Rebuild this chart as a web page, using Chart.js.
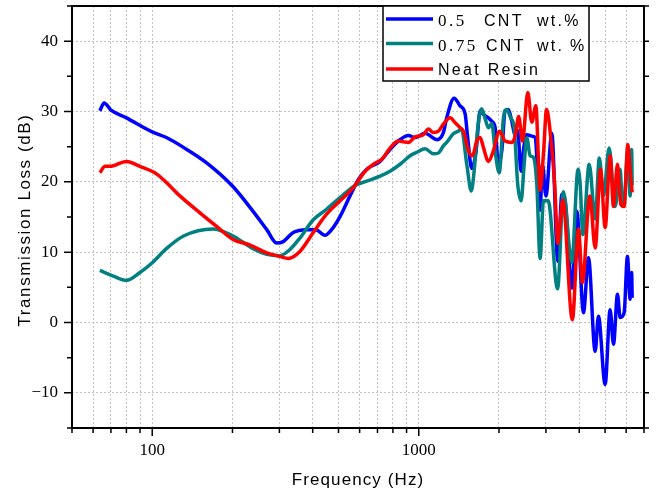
<!DOCTYPE html>
<html>
<head>
<meta charset="utf-8">
<title>Transmission Loss</title>
<script src="https://cdn.jsdelivr.net/npm/chart.js@4.4.0/dist/chart.umd.min.js"></script>
<style>
  html, body { margin: 0; padding: 0; background: #fff; }
  #wrap { width: 656px; height: 494px; }
</style>
</head>
<body>
<div id="wrap"><canvas id="tlChart" width="656" height="494"></canvas></div>
<script>
// measured transmission loss curves (frequency in Hz, TL in dB)
const freq05 = [63.6, 66, 70, 80, 100, 113, 131, 160, 200, 239, 269, 293, 310, 338, 380, 410, 445, 471, 507, 552,
  593, 638, 716, 780, 838, 914, 968, 1056, 1169, 1237, 1273, 1357, 1429, 1494, 1522, 1581, 1641, 1699, 1748, 1825,
  1880, 1934, 1990, 2049, 2109, 2169, 2234, 2299, 2350, 2420, 2480, 2543, 2655, 2733, 2853, 2910, 3000, 3156, 3325,
  3443, 3540, 3752, 3917, 4150, 4332, 4591, 4721, 5004, 5224, 5378, 5567, 5697, 5897, 6067, 6209, 6290, 6320];
const tl05 = [30.1, 31.2, 30.2, 29.1, 27.1, 26.3, 24.9, 22.7, 19.4, 15.8, 13.2, 11.3, 11.5, 12.8, 13.2, 13.2, 12.4, 13.2, 15.1, 18.0,
  20.3, 21.8, 22.9, 24.6, 25.8, 26.6, 26.3, 26.9, 26.0, 27.0, 29.1, 31.9, 30.8, 29.6, 26.7, 21.9, 24.4, 30.1, 29.6, 29.1,
  28.6, 27.7, 22.5, 24.4, 30.1, 30.3, 28.6, 26.7, 27.3, 21.5, 25.0, 26.7, 26.5, 26.3, 16.0, 22.5, 18.0, 26.9, 8.7,
  18.2, 17.3, 4.9, 15.8, 1.4, 9.2, -4.1, 0.9, -8.8, 1.8, -3.1, 4.0, 0.7, 1.4, 9.4, 3.3, 7.1, 3.5];

const freq075 = [63.6, 71.4, 80, 89.9, 100, 113, 131, 169, 201, 239, 269, 300, 329, 358, 402, 451, 522, 585, 638, 716,
  780, 851, 928, 984, 1056, 1134, 1185, 1237, 1273, 1345, 1405, 1446, 1514, 1574, 1618, 1665, 1722, 1771, 1825, 1880,
  1934, 2004, 2079, 2139, 2212, 2280, 2352, 2421, 2486, 2543, 2617, 2690, 2773, 2853, 2936, 3058, 3318, 3490, 3750,
  3960, 4033, 4129, 4360, 4591, 4759, 4932, 5180, 5457, 5697, 5811, 5900, 6087, 6209, 6290, 6320];
const tl075 = [7.4, 6.6, 6.0, 7.1, 8.5, 10.5, 12.3, 13.3, 12.3, 10.5, 9.7, 9.5, 10.4, 12.0, 14.6, 16.1, 18.2, 19.6, 20.1, 20.8,
  21.5, 22.5, 23.7, 24.2, 24.7, 24.0, 24.1, 25.1, 25.6, 26.8, 27.2, 27.5, 22.5, 18.7, 22.0, 27.7, 30.4, 29.1, 27.7, 28.3,
  24.4, 21.3, 29.1, 30.3, 29.1, 27.7, 19.6, 17.3, 22.5, 26.3, 23.7, 23.5, 19.6, 9.1, 17.3, 17.3, 4.8, 18.6, 8.5,
  21.8, 19.6, 12.5, 22.5, 14.7, 23.4, 18.0, 24.8, 16.5, 21.8, 16.5, 17.0, 24.6, 18.0, 24.6, 19.5];

const freqNeat = [63.6, 66.5, 69.4, 80, 89.9, 104, 113, 127, 151, 174, 201, 233, 269, 300, 324, 358, 402, 451, 507, 569,
  629, 688, 727, 780, 838, 914, 968, 1040, 1088, 1134, 1185, 1237, 1311, 1369, 1429, 1471, 1537, 1590, 1651, 1699,
  1748, 1825, 1905, 2009, 2109, 2234, 2299, 2370, 2450, 2565, 2655, 2749, 2853, 2936, 3017, 3137, 3236, 3325, 3470,
  3770, 3974, 4110, 4384, 4591, 4808, 5004, 5224, 5378, 5567, 5730, 5897, 6087, 6209, 6320];
const tlNeat = [21.3, 22.2, 22.2, 22.9, 22.2, 21.1, 19.9, 18.0, 15.6, 13.7, 11.8, 11.0, 9.9, 9.4, 9.1, 10.1, 12.8, 15.4, 17.3, 19.2,
  21.5, 22.7, 23.2, 24.8, 25.8, 25.6, 26.4, 26.7, 27.5, 27.0, 27.2, 28.2, 29.1, 28.4, 27.7, 27.2, 24.4, 23.7, 25.8, 26.3,
  24.9, 22.9, 24.4, 27.2, 25.8, 25.6, 26.5, 29.3, 25.8, 32.7, 28.5, 30.8, 18.8, 23.9, 30.3, 25.8, 19.6, 11.2, 17.4,
  0.4, 13.3, 5.7, 18.0, 10.6, 21.8, 13.5, 23.7, 16.5, 22.5, 16.8, 16.5, 25.3, 21.5, 18.5];

// axis ticks
const xTicks = [50, 60, 70, 80, 90, 100, 200, 300, 400, 500, 600, 700, 800, 900,
  1000, 2000, 3000, 4000, 5000, 6000, 7000];
const xLabeled = [100, 1000];
const yMin = -15, yMax = 45, yStep = 5;

const seriesNames = ['0.5   CNT  wt.%', '0.75 CNT  wt. %', 'Neat Resin'];
const seriesColors = ['#0000ff', '#008080', '#ff0000'];

const toPoints = (xs, ys) => xs.map((x, i) => ({ x: x, y: ys[i] }));

const GRID = '#c4c4c4';
const SERIF = '"Liberation Serif", "Times New Roman", serif';
const SANS = '"Liberation Sans", Arial, sans-serif';

function spacedText(ctx, text, x, y, font, spacing) {
  ctx.font = font;
  ctx.letterSpacing = spacing + 'px';
  ctx.fillText(text, x, y);
  ctx.letterSpacing = '0px';
}

// frame, outward tick marks and axis titles
const framePlugin = {
  id: 'frame',
  afterDatasetsDraw(chart) {
    const { ctx, chartArea: a, scales: { x, y } } = chart;
    ctx.save();
    ctx.strokeStyle = '#000';
    ctx.lineWidth = 1.5;
    ctx.beginPath();
    xTicks.forEach(v => {
      const px = x.getPixelForValue(v);
      const len = xLabeled.includes(v) ? 8 : 5;
      ctx.moveTo(px, a.bottom);
      ctx.lineTo(px, a.bottom + len);
    });
    for (let v = yMin; v <= yMax; v += yStep) {
      const py = y.getPixelForValue(v);
      const len = v % 10 === 0 ? 8 : 5;
      ctx.moveTo(a.left - len, py);
      ctx.lineTo(a.left, py);
      ctx.moveTo(a.right, py);
      ctx.lineTo(a.right + 5, py);
    }
    ctx.stroke();
    ctx.lineWidth = 2;
    ctx.strokeRect(a.left, a.top, a.right - a.left, a.bottom - a.top);

    ctx.fillStyle = '#000';
    ctx.textAlign = 'center';
    ctx.textBaseline = 'alphabetic';
    spacedText(ctx, 'Frequency (Hz)', (a.left + a.right) / 2, 485, '17px ' + SANS, 1.1);
    ctx.translate(30, 220);
    ctx.rotate(-Math.PI / 2);
    spacedText(ctx, 'Transmission Loss (dB)', 0, 0, '17px ' + SANS, 1.6);
    ctx.restore();
  }
};

// boxed legend in the upper right
const legendPlugin = {
  id: 'boxLegend',
  afterDraw(chart) {
    const ctx = chart.ctx;
    ctx.save();
    ctx.fillStyle = '#fff';
    ctx.fillRect(383, 6, 206, 75);
    ctx.strokeStyle = '#000';
    ctx.lineWidth = 1.5;
    ctx.strokeRect(383, 6, 206, 75);

    const rows = [19, 43.5, 69];
    rows.forEach((ly, i) => {
      ctx.strokeStyle = seriesColors[i];
      ctx.lineWidth = 3.5;
      ctx.beginPath();
      ctx.moveTo(386, ly);
      ctx.lineTo(433, ly);
      ctx.stroke();
    });

    ctx.fillStyle = '#000';
    ctx.textAlign = 'left';
    ctx.textBaseline = 'alphabetic';
    const num = '17px ' + SERIF, word = '16px ' + SANS;
    spacedText(ctx, '0.5', 438, 26, num, 2.5);
    spacedText(ctx, 'CNT', 484, 26, word, 2.3);
    spacedText(ctx, 'wt.%', 537, 26, word, 2.3);
    spacedText(ctx, '0.75', 438, 51, num, 2.5);
    spacedText(ctx, 'CNT', 486, 51, word, 2.3);
    spacedText(ctx, 'wt.', 537, 51, word, 2.3);
    spacedText(ctx, '%', 570, 51, word, 2.3);
    spacedText(ctx, 'Neat Resin', 438, 75, word, 2.3);
    ctx.restore();
  }
};

const ctx = document.getElementById('tlChart').getContext('2d');

new Chart(ctx, {
  type: 'line',
  data: {
    datasets: [
      { label: seriesNames[0], data: toPoints(freq05, tl05), borderColor: seriesColors[0], order: 3 },
      { label: seriesNames[1], data: toPoints(freq075, tl075), borderColor: seriesColors[1], order: 2 },
      { label: seriesNames[2], data: toPoints(freqNeat, tlNeat), borderColor: seriesColors[2], order: 1 }
    ]
  },
  options: {
    responsive: false,
    animation: false,
    layout: { padding: { left: 0, right: 12, top: 6, bottom: 0 } },
    elements: {
      line: { borderWidth: 3.5, cubicInterpolationMode: 'monotone', fill: false },
      point: { radius: 0, hoverRadius: 0 }
    },
    plugins: {
      legend: { display: false },
      tooltip: { enabled: false }
    },
    scales: {
      x: {
        type: 'logarithmic',
        min: 50,
        max: 7000,
        afterBuildTicks: scale => { scale.ticks = xTicks.map(v => ({ value: v })); },
        afterFit: scale => {
          scale.height = 66;
          scale.paddingLeft = 0;
          scale.paddingRight = 0;
        },
        ticks: {
          autoSkip: false,
          maxRotation: 0,
          padding: 12,
          color: '#000',
          font: { family: SERIF, size: 17 },
          callback: v => (xLabeled.includes(v) ? String(v) : '')
        },
        grid: { color: GRID, lineWidth: 1, drawTicks: false },
        border: { display: false, dash: [2, 2] }
      },
      y: {
        min: yMin,
        max: yMax,
        afterFit: scale => {
          scale.width = 72;
          scale.paddingTop = 0;
          scale.paddingBottom = 0;
        },
        ticks: {
          stepSize: yStep,
          padding: 14,
          color: '#000',
          font: { family: SERIF, size: 17 },
          callback: v => (v % 10 === 0 ? (v < 0 ? '\u2212' + Math.abs(v) : String(v)) : '')
        },
        grid: {
          color: c => (c.tick && c.tick.value % 10 === 0 ? GRID : 'transparent'),
          lineWidth: 1,
          drawTicks: false
        },
        border: { display: false, dash: [2, 2] }
      }
    }
  },
  plugins: [framePlugin, legendPlugin]
});
</script>
</body>
</html>
